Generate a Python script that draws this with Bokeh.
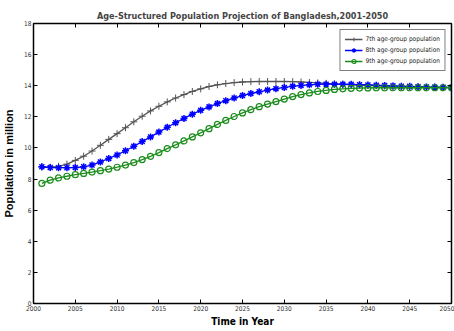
from bokeh.plotting import figure
from bokeh.models import LinearAxis, Range1d, Legend, LegendItem, FixedTicker
from bokeh.embed import file_html
from bokeh.resources import INLINE

years = list(range(2001, 2051))
pop_7th = [8.78, 8.76, 8.82, 8.96, 9.20, 9.47, 9.80, 10.17, 10.55, 10.92,
           11.30, 11.68, 12.04, 12.38, 12.68, 12.96, 13.21, 13.43, 13.63, 13.80,
           13.95, 14.06, 14.14, 14.20, 14.24, 14.26, 14.27, 14.27, 14.27, 14.27,
           14.26, 14.24, 14.21, 14.18, 14.15, 14.12, 14.09, 14.06, 14.04, 14.02,
           14.00, 13.98, 13.96, 13.95, 13.94, 13.92, 13.91, 13.90, 13.89, 13.88]
pop_8th = [8.79, 8.74, 8.73, 8.73, 8.74, 8.79, 8.90, 9.10, 9.32, 9.55,
           9.82, 10.11, 10.41, 10.71, 11.02, 11.33, 11.62, 11.90, 12.17, 12.42,
           12.64, 12.85, 13.04, 13.21, 13.37, 13.50, 13.61, 13.72, 13.81, 13.89,
           13.96, 14.02, 14.06, 14.09, 14.10, 14.10, 14.10, 14.09, 14.07, 14.05,
           14.03, 14.01, 13.99, 13.97, 13.96, 13.94, 13.92, 13.91, 13.90, 13.89]
pop_9th = [7.72, 7.93, 8.07, 8.18, 8.28, 8.36, 8.45, 8.54, 8.64, 8.76,
           8.90, 9.06, 9.25, 9.46, 9.70, 9.96, 10.20, 10.45, 10.71, 10.97,
           11.24, 11.51, 11.77, 12.02, 12.25, 12.46, 12.65, 12.82, 12.98, 13.14,
           13.30, 13.43, 13.54, 13.63, 13.70, 13.76, 13.80, 13.83, 13.85, 13.86,
           13.87, 13.87, 13.87, 13.87, 13.87, 13.87, 13.87, 13.87, 13.87, 13.87]
series_names = ["7th age-group population", "8th age-group population", "9th age-group population"]
x_ticks = list(range(2000, 2051, 5))
y_ticks = list(range(0, 19, 2))

NARROW = "'DejaVu Sans Condensed', 'Liberation Sans', sans-serif"

p = figure(width=454, height=331, output_backend="svg", toolbar_location=None,
           x_range=Range1d(2000, 2050), y_range=Range1d(0, 18),
           min_border_left=29, min_border_right=3, min_border_top=23, min_border_bottom=28,
           x_axis_location=None, y_axis_location=None)
p.background_fill_color = "white"
p.border_fill_color = "white"
p.outline_line_color = "black"
p.outline_line_width = 1
p.grid.visible = False

p.title.text = "Age-Structured Population Projection of Bangladesh,2001-2050"
p.title.align = "center"
p.title.text_font = NARROW
p.title.text_font_size = "9px"
p.title.text_font_style = "bold"
p.title.offset = 0
p.title.standoff = 6

def make_axis(cls_loc, ticks, labels=True, label_text=None):
    ax = LinearAxis(ticker=FixedTicker(ticks=ticks))
    ax.major_tick_in = 4
    ax.major_tick_out = 0
    ax.minor_tick_line_color = None
    ax.axis_line_color = "black"
    ax.axis_line_width = 1.5
    ax.major_tick_line_color = "black"
    ax.major_label_text_font = NARROW
    ax.major_label_text_font_size = "6.5px"
    ax.major_label_text_color = "#333333"
    ax.major_label_standoff = 2
    if not labels:
        ax.major_label_text_font_size = "0px"
        ax.major_label_text_alpha = 0
    if label_text:
        ax.axis_label = label_text
        ax.axis_label_text_font_style = "bold"
        ax.axis_label_text_color = "black"
    p.add_layout(ax, cls_loc)
    return ax

xb = make_axis("below", x_ticks, True, "Time in Year")
xb.axis_label_text_font = NARROW
xb.axis_label_text_font_size = "10px"
xb.axis_label_standoff = 2
yl = make_axis("left", y_ticks, True, "Population in million")
yl.axis_label_text_font = "Liberation Sans"
yl.axis_label_text_font_size = "11px"
yl.axis_label_standoff = 6
make_axis("above", x_ticks, False)
make_axis("right", y_ticks, False)

r7l = p.line(years, pop_7th, line_color="#555555", line_width=1.3)
r7m = p.scatter(years, pop_7th, marker="cross", size=7, line_color="#555555", line_width=1)
r8l = p.line(years, pop_8th, line_color="#0000ff", line_width=1.3)
r8m = p.scatter(years, pop_8th, marker="asterisk", size=7, line_color="#0000ff", line_width=1.5)
r9l = p.line(years, pop_9th, line_color="#1a8c1a", line_width=1.3)
r9m = p.scatter(years, pop_9th, marker="circle", size=6, line_color="#1a8c1a", fill_color=None, line_width=1.2)

legend = Legend(items=[
    LegendItem(label=series_names[0], renderers=[r7l, r7m]),
    LegendItem(label=series_names[1], renderers=[r8l, r8m]),
    LegendItem(label=series_names[2], renderers=[r9l, r9m]),
], location="top_right")
legend.border_line_color = "black"
legend.border_line_width = 1
legend.background_fill_alpha = 1
legend.label_text_font = NARROW
legend.label_text_font_size = "6.5px"
legend.label_text_color = "#222222"
legend.glyph_width = 18
legend.glyph_height = 10
legend.label_height = 10
legend.label_standoff = 3
legend.spacing = 1
legend.padding = 4
legend.margin = 6
p.add_layout(legend, "center")

open("out.html", "w").write(file_html(p, INLINE))
